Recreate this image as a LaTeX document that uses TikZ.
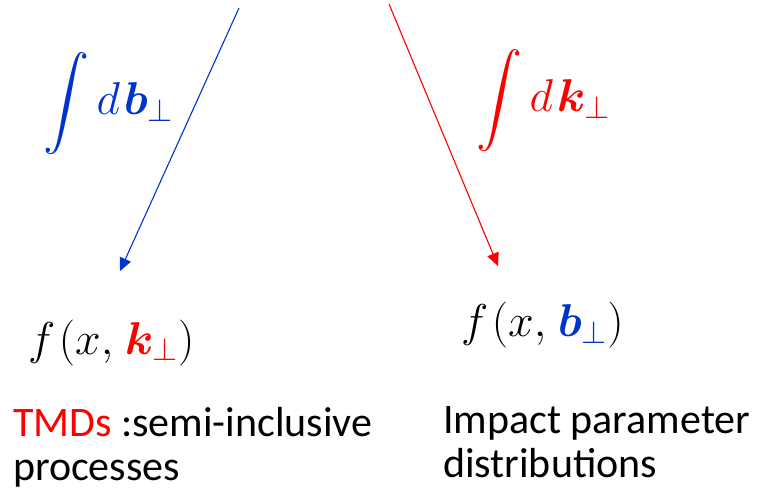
\documentclass[tikz,border=0pt]{standalone}
\usepackage{fix-cm}
\usepackage{amsmath,bm}
\DeclareFontShape{OMX}{cmex}{m}{n}{<->cmex10}{}
\usepackage{fontspec}
\setmainfont{Carlito}
\usetikzlibrary{arrows.meta}
\definecolor{myblue}{RGB}{0,51,204}
\definecolor{myred}{RGB}{255,0,0}
\tikzset{
  lbl/.style={inner sep=0pt, outer sep=0pt, anchor=base west},
  mth/.style={lbl, font=\fontsize{46}{50}\selectfont},
  txt/.style={lbl, align=left, font=\fontsize{42}{44}\selectfont},
  conn/.style={line width=1.1pt, -{Triangle[length=13pt,width=12pt]}},
}
\newcommand{\myspc}{\mkern1.5mu}
\begin{document}
\begin{tikzpicture}[x=1pt,y=-1pt]
\useasboundingbox (0,0) rectangle (761,497);
% integrals
\node[mth, text=myblue] (intb) at (43,115) {$\displaystyle\int d\myspc\bm{b}_{\perp}$};
\node[mth, text=myred] (intk) at (476,112) {$\displaystyle\int d\myspc\bm{k}_{\perp}$};
% formulas
\node[mth] (fk) at (28,354) {$f\myspc(x,\myspc\textcolor{myred}{\bm{k}_{\perp}})$};
\node[mth] (fb) at (461,337) {$f\myspc(x,\myspc\textcolor{myblue}{\bm{b}_{\perp}})$};
% descriptions (anchor at baseline of last line)
\node[txt] (tmd) at (13,480) {\textcolor{myred}{TMDs} :semi-inclusive\\processes};
\node[txt] (ipd) at (443,477) {Impact parameter\\distributions};
% arrows
\coordinate (bs) at (239,8);
\coordinate (be) at (120,271);
\coordinate (rs) at (389,4);
\coordinate (re) at (498,266);
\draw[conn, myblue] (bs) -- (be);
\draw[conn, myred] (rs) -- (re);
\end{tikzpicture}
\end{document}
